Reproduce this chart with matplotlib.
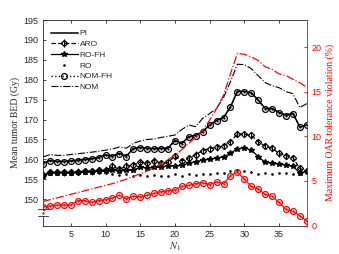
import matplotlib

matplotlib.use("Agg")
import matplotlib.pyplot as plt
import numpy as np

# N1 values (x axis)
n1 = list(range(1, 40))

# mean tumor BED (Gy), left axis
bed_pi = [159.0, 159.7, 159.5, 159.5, 159.6, 159.8, 160.0, 160.2, 160.5, 161.1,
          160.8, 161.5, 160.8, 162.7, 163.0, 162.8, 162.7, 162.8, 162.8, 164.8,
          164.0, 165.7, 166.0, 167.0, 168.6, 169.8, 170.5, 173.2, 177.1, 177.1,
          176.7, 174.9, 172.8, 172.8, 171.8, 171.1, 171.6, 168.1, 168.7]
bed_nom_fh = [158.8, 159.6, 159.4, 159.4, 159.5, 159.7, 159.9, 160.1, 160.4, 161.0,
              160.7, 161.4, 160.7, 162.6, 162.9, 162.7, 162.6, 162.7, 162.7, 164.7,
              163.9, 165.6, 165.9, 166.9, 168.5, 169.7, 170.4, 173.1, 177.0, 177.0,
              176.6, 174.8, 172.7, 172.7, 171.7, 171.0, 171.5, 168.0, 168.6]
bed_aro = [156.0, 156.8, 156.8, 156.7, 156.8, 156.9, 157.0, 157.0, 157.2, 157.2,
           158.2, 157.5, 158.3, 158.5, 159.3, 159.0, 159.7, 159.0, 159.2, 160.8,
           159.6, 160.3, 161.2, 162.2, 162.7, 163.0, 163.4, 164.4, 166.4, 166.3,
           166.0, 164.4, 163.3, 162.8, 161.5, 160.9, 160.4, 157.7, 157.0]
aro_err = [0.9, 0.8, 0.8, 0.8, 0.8, 0.8, 0.8, 0.9, 0.9, 0.9,
           1.0, 0.9, 1.0, 0.9, 0.9, 0.8, 0.9, 0.8, 0.8, 0.9,
           0.8, 0.8, 0.8, 0.8, 0.8, 0.8, 0.8, 0.8, 0.8, 0.8,
           0.8, 0.8, 0.8, 0.8, 0.8, 0.8, 0.8, 0.8, 0.8]
bed_ro_fh = [155.8, 156.6, 156.6, 156.5, 156.6, 156.7, 156.8, 156.8, 157.0, 157.0,
             157.2, 157.1, 157.2, 157.3, 158.0, 157.8, 158.0, 158.0, 158.4, 158.3,
             158.5, 159.0, 159.4, 159.8, 160.0, 160.3, 160.6, 161.5, 162.7, 162.9,
             162.3, 160.7, 159.2, 159.0, 158.8, 158.5, 158.2, 156.6, 157.0]
bed_ro = [155.9, 156.5, 156.5, 156.5, 156.5, 156.5, 156.6, 156.6, 156.6, 156.6,
          156.3, 156.0, 156.4, 155.8, 156.0, 155.9, 156.0, 155.7, 155.8, 156.4,
          155.9, 156.2, 156.0, 156.3, 156.4, 156.5, 156.6, 157.0, 157.3, 157.0,
          156.8, 156.4, 156.6, 156.3, 156.6, 156.5, 156.4, 156.2, 156.6]
bed_nom = [160.6, 161.2, 161.0, 161.0, 161.2, 161.4, 161.6, 161.8, 162.0, 162.3,
           162.6, 163.1, 162.8, 164.0, 164.6, 165.0, 165.1, 165.5, 165.8, 166.1,
           167.5, 168.6, 168.2, 170.3, 171.5, 172.8, 175.5, 179.5, 183.9, 183.8,
           182.8, 181.0, 179.3, 178.5, 178.0, 177.0, 176.5, 173.0, 174.0]

# maximum OAR tolerance violation (%), right axis
viol_nom = [2.7, 2.9, 3.1, 3.3, 3.5, 3.7, 3.9, 4.1, 4.3, 4.5,
            4.7, 4.95, 5.2, 5.5, 5.8, 6.1, 6.5, 6.9, 7.4, 7.9,
            8.5, 9.2, 9.9, 10.7, 11.8, 13.1, 14.6, 17.0, 19.3, 19.2,
            18.9, 18.5, 17.8, 17.5, 17.0, 16.8, 16.4, 16.0, 15.5]
viol_nom_fh = [2.1, 2.2, 2.3, 2.3, 2.3, 2.8, 2.8, 2.6, 2.8, 2.9,
               3.1, 3.4, 3.0, 3.3, 3.2, 3.4, 3.6, 3.8, 3.9, 4.0,
               4.4, 4.5, 4.7, 4.8, 4.6, 4.9, 4.7, 5.6, 6.0, 5.2,
               4.4, 4.1, 3.5, 3.3, 2.6, 1.8, 1.6, 1.1, 0.5]

red = "#ff0000"
axc = "#262626"

plt.rcParams["font.family"] = ["Liberation Sans", "DejaVu Sans"]
plt.rcParams["mathtext.fontset"] = "stix"
fig = plt.figure(figsize=(3.39, 2.54), dpi=100)
ax = fig.add_axes([0.127, 0.112, 0.778, 0.809])
ax2 = ax.twinx()

# left axis series
h_pi, = ax.plot(n1, bed_pi, "-", color="k", lw=1.1, label="PI")
h_aro = ax.errorbar(n1, bed_aro, yerr=aro_err, fmt="--", color="k", lw=0.9,
                    marker="D", ms=3.2, mfc="none", mew=0.9, elinewidth=0.7,
                    capsize=0, label="ARO")
h_rofh, = ax.plot(n1, bed_ro_fh, "-", color="k", lw=0.9, marker="*", ms=4,
                  label="RO-FH")
h_ro, = ax.plot(n1, bed_ro, ".", color="k", ms=1.8, label="RO")
h_nomfh, = ax.plot(n1, bed_nom_fh, ":", color="k", lw=1.0, marker="o", ms=4.2,
                   mfc="none", mew=0.9, label="NOM-FH")
h_nom, = ax.plot(n1, bed_nom, "-.", color="k", lw=0.8, label="NOM")
ax.plot(n1, bed_nom_fh, ".", color="k", ms=1.2)

# right axis series
ax2.plot(n1, viol_nom, "-.", color=red, lw=0.9)
ax2.plot(n1, viol_nom_fh, "-", color=red, lw=0.8, marker="o", ms=4.2,
         mfc="none", mew=0.9)
ax2.plot(n1, viol_nom_fh, ".", color=red, ms=1.2)

ax.set_xlim(1, 39)
ax.set_ylim(143.35, 195)
ax2.set_ylim(0, 23.03)
ax.set_xticks([5, 10, 15, 20, 25, 30, 35])
ax.set_yticks(np.arange(150, 196, 5))
ax2.set_yticks([0, 5, 10, 15, 20])

ax.tick_params(direction="in", length=2.5, width=0.6, labelsize=6.5,
               colors=axc, top=True, right=False)
ax2.tick_params(direction="in", length=2.5, width=0.6, labelsize=6.5,
                colors=red)
for s in ["top", "bottom", "left"]:
    ax.spines[s].set_color(axc)
    ax.spines[s].set_linewidth(0.6)
ax.spines["right"].set_visible(False)
for s in ["top", "bottom", "left"]:
    ax2.spines[s].set_visible(False)
ax2.spines["right"].set_color(red)
ax2.spines["right"].set_linewidth(0.6)

# axis break on the left spine
ax.spines["left"].set_bounds(147.4, 195)
ax.plot([1, 1], [143.35, 145.7], color=axc, lw=0.6, clip_on=False)
for yb in [145.7, 147.4]:
    ax.plot([-0.018, 0.018], [yb, yb], color=axc, lw=0.6, clip_on=False,
            transform=ax.get_yaxis_transform())
ax.plot([1], [146.55], ".", color=axc, ms=1.2, clip_on=False)

ax.set_ylabel("Mean tumor BED (Gy)", family=["Liberation Serif", "DejaVu Serif"],
              fontsize=7, color=axc, labelpad=2)
ax2.set_ylabel("Maximum OAR tolerance violation (%)",
               family=["Liberation Serif", "DejaVu Serif"], fontsize=7,
               color=red, labelpad=3)
ax.set_xlabel(r"$N_1$", fontsize=7.5, color=axc, labelpad=1)

leg = ax.legend([h_pi, h_aro, h_rofh, h_ro, h_nomfh, h_nom],
                ["PI", "ARO", "RO-FH", "RO", "NOM-FH", "NOM"],
                loc="upper left", frameon=False, fontsize=6, handlelength=3.3,
                handletextpad=0.2, labelspacing=0.35, borderaxespad=0.5,
                bbox_to_anchor=(0.0, 0.99))
for t in leg.get_texts():
    t.set_color(axc)

fig.savefig("out.png", dpi=100)
